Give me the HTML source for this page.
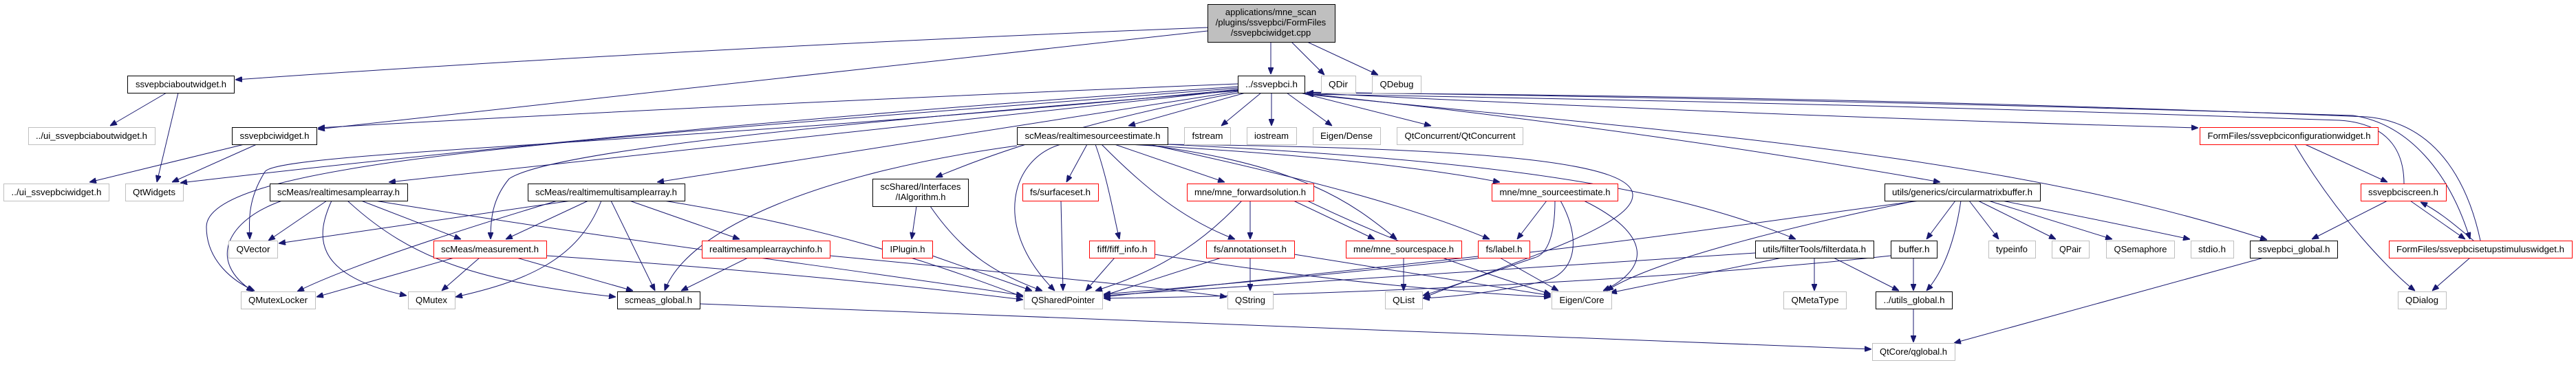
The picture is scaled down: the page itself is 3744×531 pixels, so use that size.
<!DOCTYPE html>
<html><head><meta charset="utf-8"><style>
html,body{margin:0;padding:0;background:#fff;width:3744px;height:531px;overflow:hidden}
svg{display:block}
text{font-family:"Liberation Sans",sans-serif;font-size:13px;fill:#000}
.g{fill:#fff;stroke:#bfbfbf;stroke-width:1}
.b{fill:#fff;stroke:#000;stroke-width:1}
.r{fill:#fff;stroke:#ff0000;stroke-width:1}
path{fill:none;stroke:#191970;stroke-width:1}
</style></head><body>
<svg width="3744" height="531" viewBox="0 0 3744 531" xmlns="http://www.w3.org/2000/svg">
<defs><marker id="a" markerWidth="10" markerHeight="8" refX="10" refY="4" orient="auto" markerUnits="userSpaceOnUse"><polygon points="0,0 10,4 0,8" fill="#191970" stroke="#191970"/></marker></defs>
<g marker-end="url(#a)">
<path d="M1755,40 Q1000,70 342,116"/>
<path d="M1755,45 Q1100,120 462,188"/>
<path d="M1847,61 L1847,108"/>
<path d="M1877,61 L1925,109"/>
<path d="M1900,61 L2003,109"/>
<path d="M242,135 L160,183"/>
<path d="M259,135 L228,265"/>
<path d="M355,210 L130,265"/>
<path d="M373,210 L250,265"/>
<path d="M1799,122 Q1100,150 462,186"/>
<path d="M1799,126 Q1000,180 262,266"/>
<path d="M1799,128 C900,200 300,230 300,330 C300,380 340,410 370,423"/>
<path d="M1799,130 C1000,210 400,220 385,250 C360,290 362,320 363,348"/>
<path d="M1799,131 L565,265"/>
<path d="M1799,133 L955,265"/>
<path d="M1799,132 C1200,180 800,220 740,260 C715,290 713,320 713,348"/>
<path d="M1800,135 C1600,170 1450,220 1360,258"/>
<path d="M1810,135 L1640,183"/>
<path d="M1833,135 L1775,183"/>
<path d="M1848,135 L1848,183"/>
<path d="M1870,135 L1936,183"/>
<path d="M1890,135 L2080,183"/>
<path d="M1897,135 Q2600,170 3195,186"/>
<path d="M1897,136 Q2400,190 2820,265"/>
<path d="M1697,210 C2100,230 2400,260 2610,348"/>
<path d="M1897,137 C2400,190 2900,220 3295,349"/>
<path d="M3494,267 C3494,230 3480,180 3400,175 Q2700,150 1899,137"/>
<path d="M3605,350 C3590,280 3550,180 3440,170 Q2700,140 1899,135"/>
<path d="M1899,134 Q2700,145 3420,168 C3500,180 3560,250 3590,348"/>
<path d="M3350,210 L3470,265"/>
<path d="M3335,210 C3400,320 3480,400 3510,423"/>
<path d="M3470,292 L3360,348"/>
<path d="M3503,292 L3583,348"/>
<path d="M3595,350 C3560,320 3540,305 3518,294"/>
<path d="M3590,375 L3535,423"/>
<path d="M3290,375 L2840,499"/>
<path d="M1542,210 C1470,230 1440,330 1533,423"/>
<path d="M1580,210 L1550,265"/>
<path d="M1592,210 C1610,260 1620,320 1627,348"/>
<path d="M1601,210 C1660,270 1720,320 1795,348"/>
<path d="M1620,210 L1780,265"/>
<path d="M1640,210 Q2000,230 2180,265"/>
<path d="M1660,210 C1900,240 1970,300 2030,348"/>
<path d="M1670,210 C1900,260 2050,300 2165,348"/>
<path d="M1690,210 C2200,215 2373,240 2373,284 C2373,330 2200,380 2069,433"/>
<path d="M1478,212 C1200,250 1000,330 966,423"/>
<path d="M410,292 C330,320 300,380 368,424"/>
<path d="M475,292 L390,350"/>
<path d="M482,292 C460,340 450,400 591,430"/>
<path d="M525,292 L670,348"/>
<path d="M545,292 C900,350 1300,400 1487,430"/>
<path d="M505,292 C600,380 700,410 895,432"/>
<path d="M830,292 L405,354"/>
<path d="M855,292 L735,348"/>
<path d="M874,292 C840,380 760,410 662,432"/>
<path d="M888,292 L952,423"/>
<path d="M915,292 L1075,348"/>
<path d="M965,292 C1200,330 1350,380 1487,432"/>
<path d="M810,292 C650,340 500,390 432,424"/>
<path d="M660,375 L460,432"/>
<path d="M697,375 L642,423"/>
<path d="M751,375 L920,423"/>
<path d="M795,372 Q1200,400 1487,436"/>
<path d="M1087,375 L990,423"/>
<path d="M1206,372 C1500,400 1700,420 1783,432"/>
<path d="M1332,300 L1325,348"/>
<path d="M1352,300 C1400,370 1450,400 1515,423"/>
<path d="M1355,372 L1500,423"/>
<path d="M1542,292 L1545,423"/>
<path d="M1620,375 L1578,423"/>
<path d="M1678,370 Q2000,420 2254,432"/>
<path d="M1817,292 L1817,348"/>
<path d="M1880,292 L1998,348"/>
<path d="M1805,292 C1760,340 1700,390 1592,423"/>
<path d="M1900,292 C2000,340 2100,380 2254,428"/>
<path d="M1817,375 L1817,423"/>
<path d="M1775,375 L1604,430"/>
<path d="M1881,370 L2254,430"/>
<path d="M2040,375 L2040,423"/>
<path d="M2180,375 L2265,423"/>
<path d="M2148,373 L1604,432"/>
<path d="M2248,292 L2205,348"/>
<path d="M2260,292 C2260,340 2250,370 2230,375 Q2100,420 2068,430"/>
<path d="M2268,292 C2300,350 2290,400 2240,410 Q2150,430 2068,434"/>
<path d="M2302,292 C2400,340 2400,390 2330,423"/>
<path d="M2842,292 L2800,348"/>
<path d="M2850,292 C2840,360 2820,400 2800,423"/>
<path d="M2862,292 L2905,348"/>
<path d="M2875,292 L2988,348"/>
<path d="M2890,292 L3070,348"/>
<path d="M2910,292 Q3100,330 3183,348"/>
<path d="M2790,292 C2500,330 2200,380 1604,428"/>
<path d="M2785,292 C2600,330 2400,380 2335,423"/>
<path d="M2637,375 L2637,423"/>
<path d="M2665,375 L2760,423"/>
<path d="M2551,368 L1604,430"/>
<path d="M2590,375 L2340,426"/>
<path d="M2781,375 L2781,423"/>
<path d="M2748,372 C2400,410 1900,430 1604,434"/>
<path d="M2781,450 L2781,498"/>
<path d="M1017,442 L2720,508"/>
</g>
<g text-anchor="middle">
<rect class="g" x="1755.5" y="6.5" width="185" height="55" style="fill:#bfbfbf;stroke:#000"/>
<text x="1847" y="22">applications/mne_scan</text>
<text x="1847" y="37">/plugins/ssvepbci/FormFiles</text>
<text x="1847" y="52">/ssvepbciwidget.cpp</text>

<rect class="b" x="185.5" y="110.5" width="155" height="25"/><text x="263" y="127" textLength="132" lengthAdjust="spacingAndGlyphs">ssvepbciaboutwidget.h</text>
<rect class="b" x="1799.5" y="110.5" width="97" height="25"/><text x="1848" y="127" textLength="76" lengthAdjust="spacingAndGlyphs">../ssvepbci.h</text>
<rect class="g" x="1920.5" y="110.5" width="50" height="25"/><text x="1945" y="127" textLength="28" lengthAdjust="spacingAndGlyphs">QDir</text>
<rect class="g" x="1994.5" y="110.5" width="71" height="25"/><text x="2030" y="127" textLength="49" lengthAdjust="spacingAndGlyphs">QDebug</text>

<rect class="g" x="41.5" y="185.5" width="184" height="25"/><text x="133" y="202" textLength="162" lengthAdjust="spacingAndGlyphs">../ui_ssvepbciaboutwidget.h</text>
<rect class="b" x="337.5" y="185.5" width="123" height="25"/><text x="399" y="202" textLength="101" lengthAdjust="spacingAndGlyphs">ssvepbciwidget.h</text>
<rect class="b" x="1478.5" y="185.5" width="219" height="25"/><text x="1588" y="202" textLength="197" lengthAdjust="spacingAndGlyphs">scMeas/realtimesourceestimate.h</text>
<rect class="g" x="1721.5" y="185.5" width="67" height="25"/><text x="1755" y="202" textLength="45" lengthAdjust="spacingAndGlyphs">fstream</text>
<rect class="g" x="1812.5" y="185.5" width="72" height="25"/><text x="1848" y="202" textLength="50" lengthAdjust="spacingAndGlyphs">iostream</text>
<rect class="g" x="1908.5" y="185.5" width="98" height="25"/><text x="1957" y="202" textLength="76" lengthAdjust="spacingAndGlyphs">Eigen/Dense</text>
<rect class="g" x="2030.5" y="185.5" width="183" height="25"/><text x="2122" y="202" textLength="161" lengthAdjust="spacingAndGlyphs">QtConcurrent/QtConcurrent</text>
<rect class="r" x="3197.5" y="185.5" width="259" height="25"/><text x="3327" y="202" textLength="237" lengthAdjust="spacingAndGlyphs">FormFiles/ssvepbciconfigurationwidget.h</text>

<rect class="g" x="5.5" y="267.5" width="153" height="25"/><text x="82" y="284" textLength="131" lengthAdjust="spacingAndGlyphs">../ui_ssvepbciwidget.h</text>
<rect class="g" x="182.5" y="267.5" width="84" height="25"/><text x="224" y="284" textLength="62" lengthAdjust="spacingAndGlyphs">QtWidgets</text>
<rect class="b" x="392.5" y="267.5" width="200" height="25"/><text x="492" y="284" textLength="178" lengthAdjust="spacingAndGlyphs">scMeas/realtimesamplearray.h</text>
<rect class="b" x="767.5" y="267.5" width="228" height="25"/><text x="881" y="284" textLength="206" lengthAdjust="spacingAndGlyphs">scMeas/realtimemultisamplearray.h</text>
<rect class="b" x="1268.5" y="260.5" width="139" height="40"/><text x="1338" y="276" textLength="117" lengthAdjust="spacingAndGlyphs">scShared/Interfaces</text><text x="1338" y="291" textLength="73" lengthAdjust="spacingAndGlyphs">/IAlgorithm.h</text>
<rect class="r" x="1486.5" y="267.5" width="110" height="25"/><text x="1541" y="284" textLength="88" lengthAdjust="spacingAndGlyphs">fs/surfaceset.h</text>
<rect class="r" x="1725.5" y="267.5" width="184" height="25"/><text x="1817" y="284" textLength="162" lengthAdjust="spacingAndGlyphs">mne/mne_forwardsolution.h</text>
<rect class="r" x="2168.5" y="267.5" width="183" height="25"/><text x="2260" y="284" textLength="161" lengthAdjust="spacingAndGlyphs">mne/mne_sourceestimate.h</text>
<rect class="b" x="2739.5" y="267.5" width="226" height="25"/><text x="2852" y="284" textLength="204" lengthAdjust="spacingAndGlyphs">utils/generics/circularmatrixbuffer.h</text>
<rect class="r" x="3431.5" y="267.5" width="124" height="25"/><text x="3493" y="284" textLength="102" lengthAdjust="spacingAndGlyphs">ssvepbciscreen.h</text>

<rect class="g" x="332.5" y="350.5" width="71" height="25"/><text x="368" y="367" textLength="49" lengthAdjust="spacingAndGlyphs">QVector</text>
<rect class="r" x="630.5" y="350.5" width="164" height="25"/><text x="712" y="367" textLength="142" lengthAdjust="spacingAndGlyphs">scMeas/measurement.h</text>
<rect class="r" x="1020.5" y="350.5" width="186" height="25"/><text x="1113" y="367" textLength="164" lengthAdjust="spacingAndGlyphs">realtimesamplearraychinfo.h</text>
<rect class="r" x="1282.5" y="350.5" width="73" height="25"/><text x="1319" y="367" textLength="51" lengthAdjust="spacingAndGlyphs">IPlugin.h</text>
<rect class="r" x="1583.5" y="350.5" width="95" height="25"/><text x="1631" y="367" textLength="73" lengthAdjust="spacingAndGlyphs">fiff/fiff_info.h</text>
<rect class="r" x="1753.5" y="350.5" width="128" height="25"/><text x="1817" y="367" textLength="106" lengthAdjust="spacingAndGlyphs">fs/annotationset.h</text>
<rect class="r" x="1956.5" y="350.5" width="168" height="25"/><text x="2040" y="367" textLength="146" lengthAdjust="spacingAndGlyphs">mne/mne_sourcespace.h</text>
<rect class="r" x="2148.5" y="350.5" width="75" height="25"/><text x="2186" y="367" textLength="53" lengthAdjust="spacingAndGlyphs">fs/label.h</text>
<rect class="b" x="2551.5" y="350.5" width="172" height="25"/><text x="2637" y="367" textLength="150" lengthAdjust="spacingAndGlyphs">utils/filterTools/filterdata.h</text>
<rect class="b" x="2748.5" y="350.5" width="67" height="25"/><text x="2782" y="367" textLength="45" lengthAdjust="spacingAndGlyphs">buffer.h</text>
<rect class="g" x="2890.5" y="350.5" width="68" height="25"/><text x="2924" y="367" textLength="46" lengthAdjust="spacingAndGlyphs">typeinfo</text>
<rect class="g" x="2982.5" y="350.5" width="54" height="25"/><text x="3009" y="367" textLength="32" lengthAdjust="spacingAndGlyphs">QPair</text>
<rect class="g" x="3061.5" y="350.5" width="99" height="25"/><text x="3111" y="367" textLength="77" lengthAdjust="spacingAndGlyphs">QSemaphore</text>
<rect class="g" x="3184.5" y="350.5" width="62" height="25"/><text x="3215" y="367" textLength="40" lengthAdjust="spacingAndGlyphs">stdio.h</text>
<rect class="b" x="3270.5" y="350.5" width="127" height="25"/><text x="3334" y="367" textLength="105" lengthAdjust="spacingAndGlyphs">ssvepbci_global.h</text>
<rect class="r" x="3472.5" y="350.5" width="266" height="25"/><text x="3605" y="367" textLength="244" lengthAdjust="spacingAndGlyphs">FormFiles/ssvepbcisetupstimuluswidget.h</text>

<rect class="g" x="350.5" y="424.5" width="108" height="25"/><text x="404" y="441" textLength="86" lengthAdjust="spacingAndGlyphs">QMutexLocker</text>
<rect class="g" x="593.5" y="424.5" width="68" height="25"/><text x="627" y="441" textLength="46" lengthAdjust="spacingAndGlyphs">QMutex</text>
<rect class="b" x="897.5" y="424.5" width="120" height="25"/><text x="957" y="441" textLength="98" lengthAdjust="spacingAndGlyphs">scmeas_global.h</text>
<rect class="g" x="1488.5" y="424.5" width="114" height="25"/><text x="1545" y="441" textLength="92" lengthAdjust="spacingAndGlyphs">QSharedPointer</text>
<rect class="g" x="1784.5" y="424.5" width="66" height="25"/><text x="1817" y="441" textLength="44" lengthAdjust="spacingAndGlyphs">QString</text>
<rect class="g" x="2013.5" y="424.5" width="54" height="25"/><text x="2040" y="441" textLength="32" lengthAdjust="spacingAndGlyphs">QList</text>
<rect class="g" x="2255.5" y="424.5" width="87" height="25"/><text x="2299" y="441" textLength="65" lengthAdjust="spacingAndGlyphs">Eigen/Core</text>
<rect class="g" x="2592.5" y="424.5" width="91" height="25"/><text x="2638" y="441" textLength="69" lengthAdjust="spacingAndGlyphs">QMetaType</text>
<rect class="b" x="2726.5" y="424.5" width="111" height="25"/><text x="2782" y="441" textLength="89" lengthAdjust="spacingAndGlyphs">../utils_global.h</text>
<rect class="g" x="3485.5" y="424.5" width="70" height="25"/><text x="3520" y="441" textLength="48" lengthAdjust="spacingAndGlyphs">QDialog</text>

<rect class="g" x="2721.5" y="499.5" width="120" height="25"/><text x="2781" y="516" textLength="98" lengthAdjust="spacingAndGlyphs">QtCore/qglobal.h</text>
</g>
</svg>
</body></html>
